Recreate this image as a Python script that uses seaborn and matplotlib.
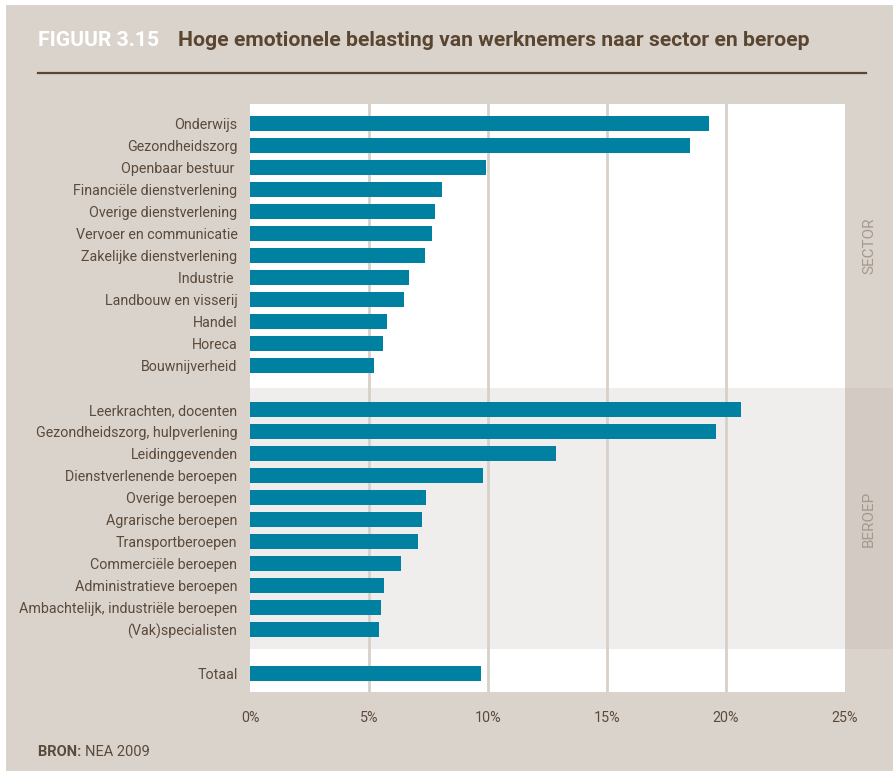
import matplotlib
matplotlib.use("Agg")
import matplotlib.pyplot as plt
import matplotlib.transforms as mtransforms
from matplotlib.patches import Rectangle
import seaborn as sns
import pandas as pd

# ---- data ----
sector_labels = ["Onderwijs", "Gezondheidszorg", "Openbaar bestuur ", "Financiële dienstverlening",
                 "Overige dienstverlening", "Vervoer en communicatie", "Zakelijke dienstverlening",
                 "Industrie ", "Landbouw en visserij", "Handel", "Horeca", "Bouwnijverheid"]
sector_values = [19.3, 18.5, 9.9, 8.05, 7.77, 7.63, 7.35, 6.67, 6.45, 5.75, 5.58, 5.2]

beroep_labels = ["Leerkrachten, docenten", "Gezondheidszorg, hulpverlening", "Leidinggevenden",
                 "Dienstverlenende beroepen", "Overige beroepen", "Agrarische beroepen",
                 "Transportberoepen", "Commerciële beroepen", "Administratieve beroepen",
                 "Ambachtelijk, industriële beroepen", "(Vak)specialisten"]
beroep_values = [20.63, 19.58, 12.85, 9.81, 7.39, 7.23, 7.06, 6.34, 5.63, 5.5, 5.42]

totaal_labels = ["Totaal"]
totaal_values = [9.7]

x_ticks = [0, 5, 10, 15, 20, 25]
x_ticklabels = ["0%", "5%", "10%", "15%", "20%", "25%"]

title_prefix = "FIGUUR 3.15"
title_text = "Hoge emotionele belasting van werknemers naar sector en beroep"
source_bold = "BRON:"
source_text = "NEA 2009"
group_names = ["SECTOR", "BEROEP"]

# ---- build table (one blank row between groups) ----
groups = [(sector_labels, sector_values), (beroep_labels, beroep_values), (totaal_labels, totaal_values)]
rows = []
pos = 0
group_spans = []
for labels, values in groups:
    start = pos
    for lab, val in zip(labels, values):
        rows.append({"label": lab, "value": val, "pos": pos})
        pos += 1
    group_spans.append((start, pos - 1))
    pos += 1
df = pd.DataFrame(rows)

# ---- colours ----
BG = "#dad3cc"
BAR = "#0081a1"
TXT = "#5b4a3a"
BAND = "#f0eeec"
BAND_STRIP = "#d3cac3"
GRID = "#d8d0c8"
SIDE_TXT = "#a5998d"
FONT = "Roboto"

W, H = 893, 772
fig = plt.figure(figsize=(W / 100, H / 100), dpi=100, facecolor="white")
fig.patches.append(Rectangle((6 / W, 1 - 771 / H), (W - 6) / W, (771 - 5) / H,
                             transform=fig.transFigure, facecolor=BG, edgecolor="none", zorder=-10))

ax_left, ax_right, ax_top, ax_bot = 250, 845, 104, 692
ax = fig.add_axes([ax_left / W, 1 - ax_bot / H, (ax_right - ax_left) / W, (ax_bot - ax_top) / H])
ax.set_facecolor("white")

sns.barplot(data=df, x="value", y="pos", orient="h", native_scale=True,
            color=BAR, saturation=1, width=0.68, ax=ax, zorder=3)

row_px = 22.0
y_top = -(123.5 - ax_top) / row_px
y_bot = (ax_bot - 123.5) / row_px
ax.set_ylim(y_bot, y_top)
ax.set_xlim(0, 25)

# band for second group
b0 = group_spans[1][0] - 0.98
b1 = group_spans[1][1] + 0.89
ax.axhspan(b0, b1, color=BAND, zorder=0, lw=0)
trans = mtransforms.blended_transform_factory(ax.transAxes, ax.transData)
strip_w = (W - ax_right) / (ax_right - ax_left)
ax.add_patch(Rectangle((1, b0), strip_w, b1 - b0, transform=trans, clip_on=False,
                       facecolor=BAND_STRIP, edgecolor="none", zorder=0))

# group labels in right strip
sec_mid = (y_top + b0) / 2
ax.text(1 + strip_w / 2, sec_mid, group_names[0], transform=trans, rotation=90,
        ha="center", va="center", color=SIDE_TXT, fontsize=11, family=FONT)
ax.text(1 + strip_w / 2, (b0 + b1) / 2, group_names[1], transform=trans, rotation=90,
        ha="center", va="center", color=SIDE_TXT, fontsize=11, family=FONT)

# grid
for xv in x_ticks[1:-1]:
    ax.axvline(xv, color=GRID, lw=2, zorder=1)

for s in ax.spines.values():
    s.set_visible(False)
ax.set_yticks(df["pos"])
ax.set_yticklabels(df["label"])
ax.set_xticks(x_ticks)
ax.set_xticklabels(x_ticklabels)
ax.tick_params(axis="both", length=0, colors=TXT, labelsize=10.3)
ax.tick_params(axis="y", pad=9)
ax.tick_params(axis="x", pad=14)
for t in ax.get_xticklabels() + ax.get_yticklabels():
    t.set_family(FONT)
ax.set_xlabel("")
ax.set_ylabel("")
ax.grid(False)

# title (fit to reference width)
fig.canvas.draw()
r = fig.canvas.get_renderer()
t_pre = fig.text(38 / W, 1 - 40 / H, title_prefix, color="white", fontsize=14, fontweight="bold",
                 family=FONT, va="center", ha="left")
t_main = fig.text(178 / W, 1 - 40 / H, title_text, color="#5a4630", fontsize=14, fontweight="bold",
                  family=FONT, va="center", ha="left")
for t, target in [(t_pre, 122), (t_main, 632)]:
    w = t.get_window_extent(r).width
    t.set_fontsize(14 * target / w)
fig.add_artist(plt.Line2D([38 / W, 866 / W], [1 - 73 / H, 1 - 73 / H], color="#5a4630", lw=1.6))

# source
t1 = fig.text(38 / W, 1 - 752 / H, source_bold + " ", color=TXT, fontsize=10.5, fontweight="bold",
              family=FONT, va="center", ha="left")
bb = t1.get_window_extent(r)
fig.text(bb.x1 / W, 1 - 752 / H, source_text, color=TXT, fontsize=10.5,
         family=FONT, va="center", ha="left")

fig.savefig("out.png", dpi=100, facecolor=fig.get_facecolor())
